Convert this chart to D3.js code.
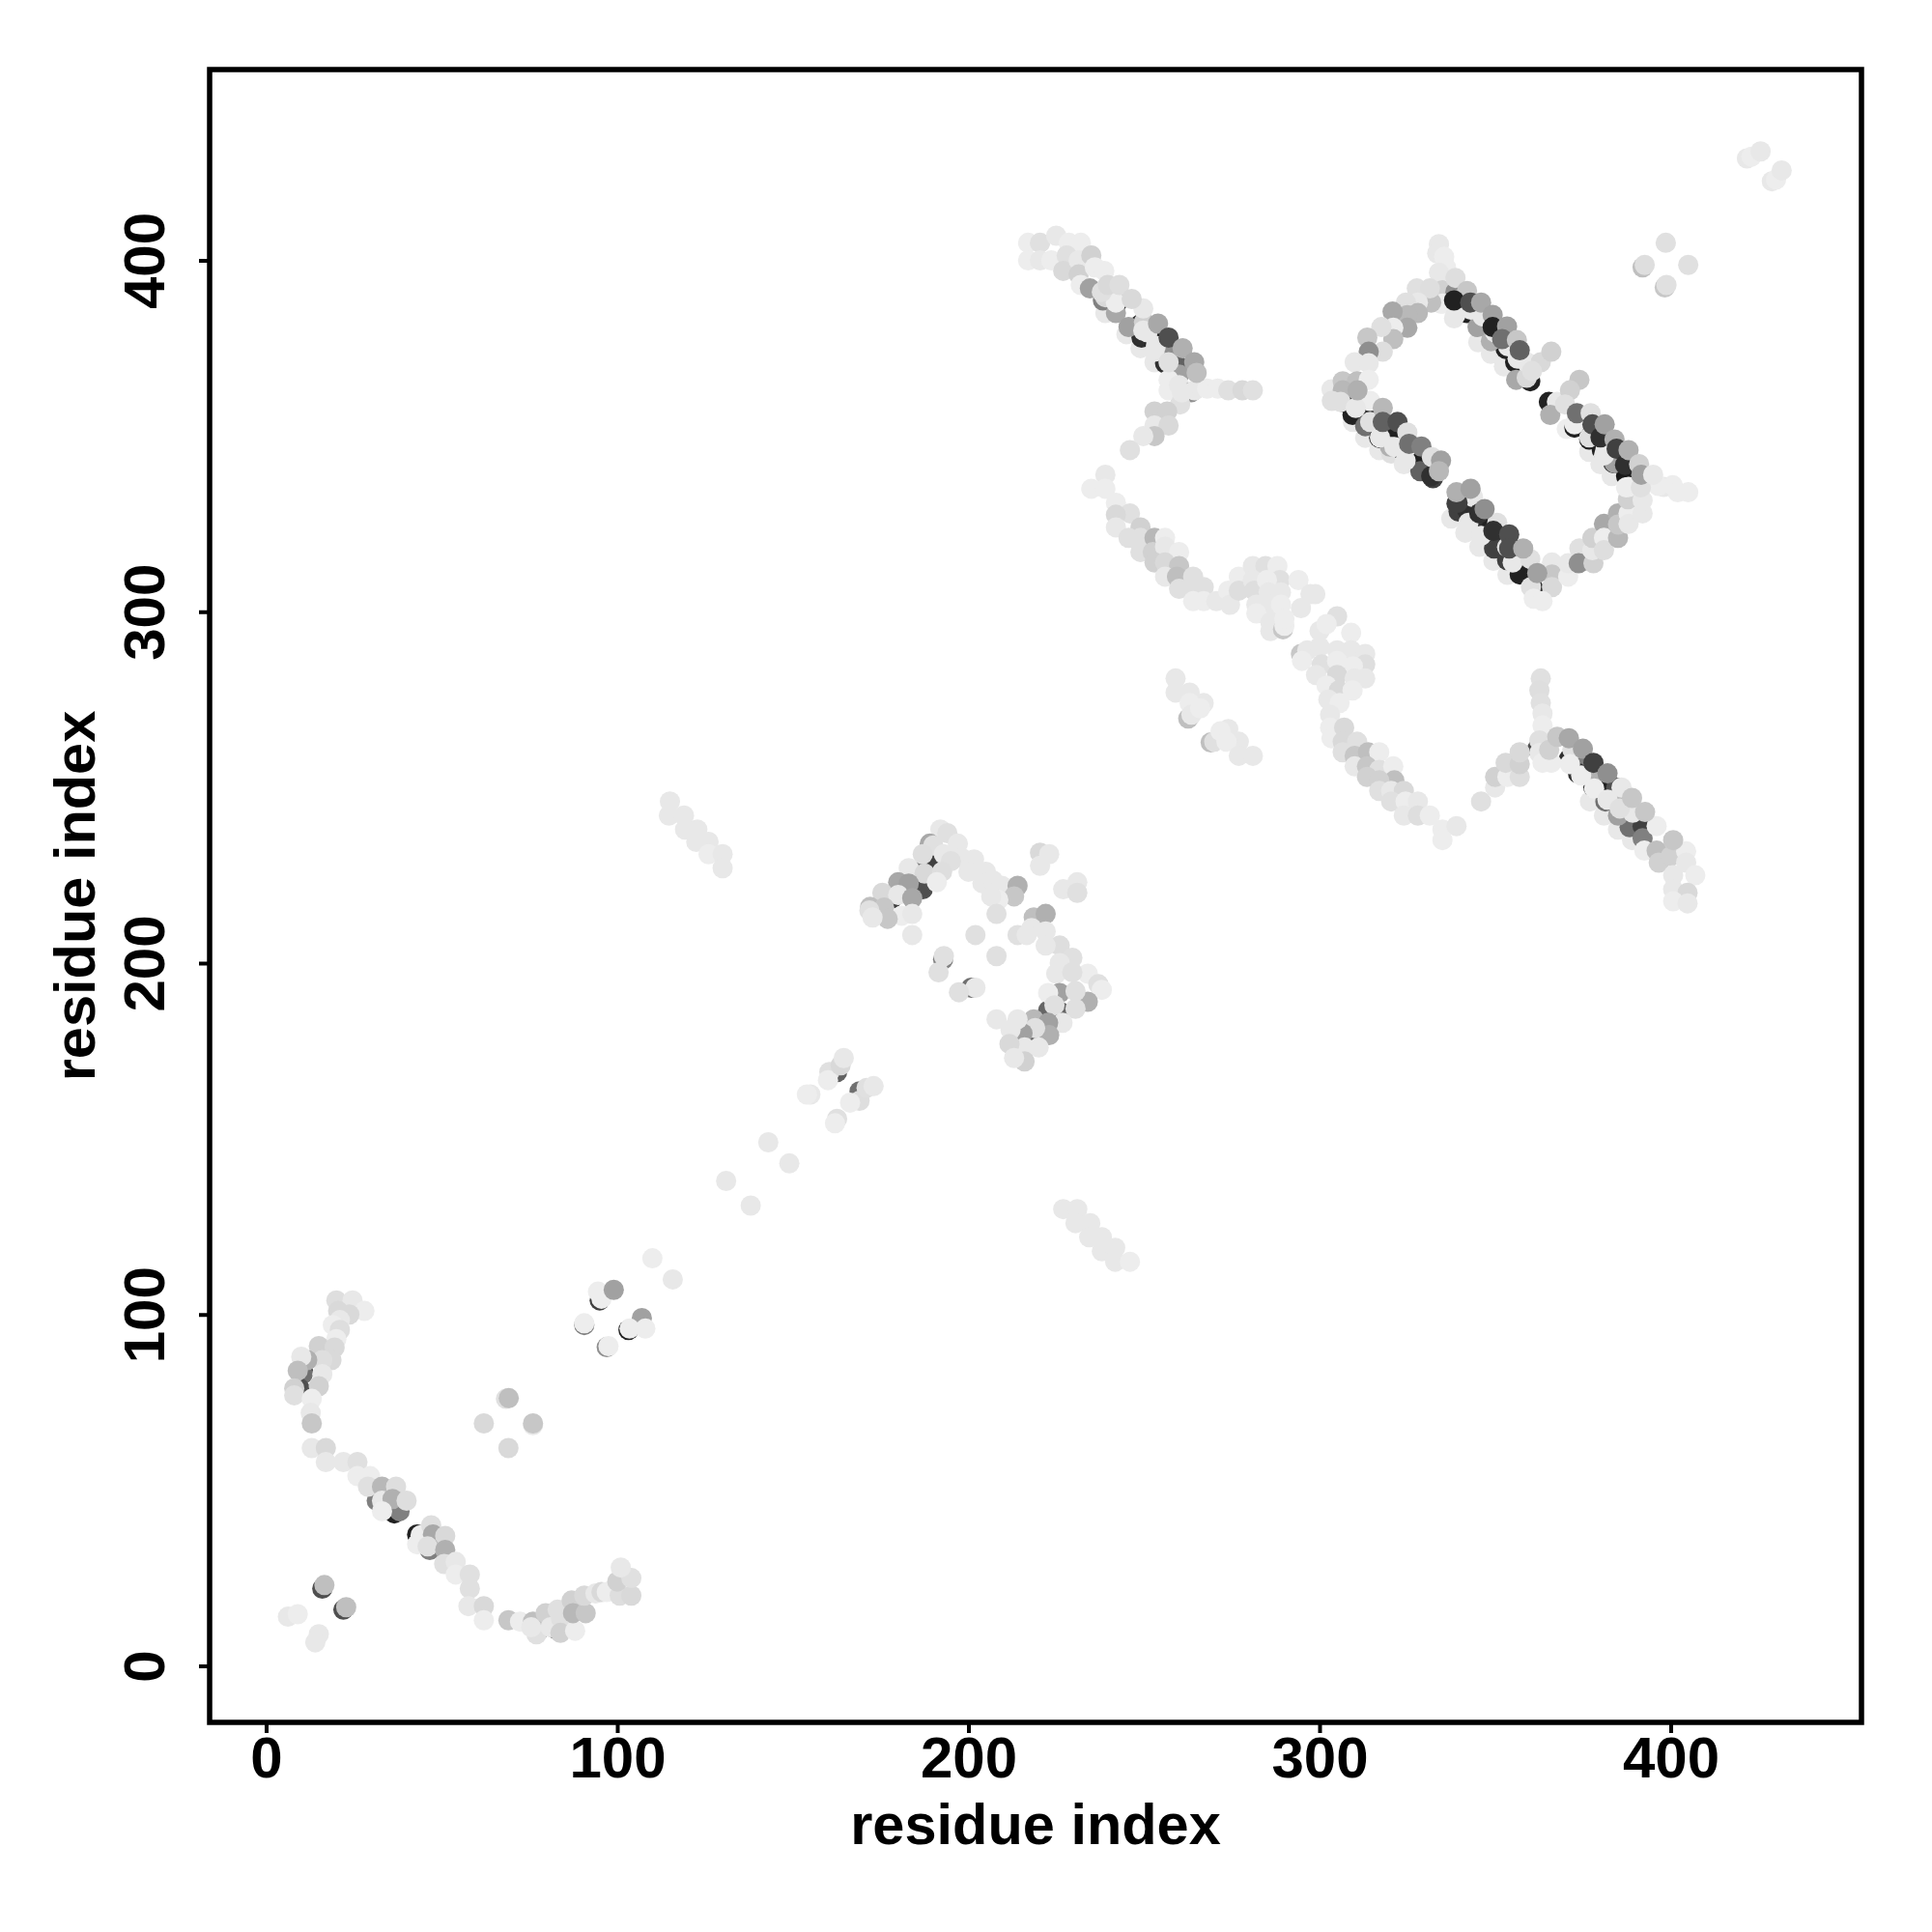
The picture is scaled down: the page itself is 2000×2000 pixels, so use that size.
<!DOCTYPE html>
<html><head><meta charset="utf-8">
<script src="https://cdn.jsdelivr.net/npm/d3@7/dist/d3.min.js"></script>
<style>html,body{margin:0;background:#fff}svg{display:block}text{font-family:"Liberation Sans",Arial,sans-serif;font-weight:700;fill:#000}</style>
</head><body><div id="c"></div>
<script>
// each entry: residue i, residue j, darkness score (0 white .. 100 black)
const nTermArc=[[20,104,13],[24.6,104,9],[28,101,7],[23.7,100,15],[20.5,101,15],[21,98.4,9],[19,97,7],[21,95.6,13],[20,93,7],[15,91,18],[19.5,90.6,15],[18.6,87,15],[16,87,13],[11.7,87,31],[10,88,9],[10.5,83.5,87],[10.4,83,56],[16,83,9],[9,84,25],[15,79.6,18],[9.5,79,69],[8,79,18],[8,77,12],[13,76,7],[12.7,72,9],[13,69,22],[13,62,9],[17,62,15],[17,58,9],[22,58,9],[26,58,12],[26,54,7],[29.6,54,7],[29,51,12],[33,51,28],[37,51,13],[31.5,47,50],[33,47,9],[36,47.5,31],[40,47,13],[33,44,7],[36.5,43.4,87],[38,44,50],[43,37.4,87],[44,37.2,7],[47,40,13],[46,36.5,69],[47.5,37.4,34],[51,37,15],[43,34.6,7],[46.6,33,50],[46,34,12],[51,33,31],[50.7,29,12],[54,29.6,9],[54,26,7],[58,26,12],[58,22,12],[57.6,17,9],[62,17,15],[62,13,7],[69,13,22],[72.3,12.6,7]];
const nTermTail=[[76,12.6,25],[77,9,12],[75.5,11,9],[78,10.5,69],[79.6,15,18],[81,11,9],[82.5,10.5,75],[83,16,12],[83,11,62],[84,13.5,12],[83.8,9.4,18],[88,10,7],[87,18.6,18],[87.4,15,28],[91,15,22],[90.6,20,15],[93.8,20.6,9],[95.5,21,15],[97,21,7],[100.7,20,13],[104,20,15],[100,24,18],[104,25,12],[101,28,9]];
const cornerSpots=[[16,22,69],[16.6,23,25],[22,16,69],[22.8,16.7,25],[6.2,14,9],[9,14.7,7],[15,9,9],[14,6.7,9],[68.3,76,12],[69.1,76.2,25],[62,69,15],[76,68.5,9],[76,69,22],[69,62,15],[95,104,75],[95.5,104.5,7],[94.5,106.5,7],[99,107,37],[90.6,97,50],[90.6,97.5,7],[97,90.7,44],[97.5,91,7],[107,99,37],[103.2,95.6,87],[103.5,96,7],[108,96,7]];
const sparseLinks=[[110,116,7],[115.8,110,9],[131,138,9],[138,131,9],[143,149,9],[149,143,9],[155,162.6,9],[154,162.6,7],[162.6,169,62],[160.4,169,12],[160,166.7,7],[163.6,170.9,15],[164.5,173,9],[169,163.5,56],[169,160.8,13],[166.3,160.3,7],[171,164.5,12],[173,165,9],[162.6,155.7,12],[162,154.4,7]];
const offDiagA=[[227,130,9],[231,130,9],[230.5,126,9],[234.7,126,9],[234.4,122,9],[238,122,9],[238,118,9],[241.8,119,9],[241.8,115,9],[246,115,7]];
const offDiagB=[[115,246,9],[114.7,242,9],[119,242,9],[119.3,238,9],[122.8,238,9],[122.5,234.5,9],[126,234.5,9],[126,231,7],[130,231,9],[130,227,9]];
const midArmLeft=[[192,238,9],[194,237,12],[197,234,9],[189,234,34],[190,233.5,12],[187,231,13],[193,231,9],[189.7,229,75],[198,230,9],[201.6,229.5,9],[195,229,12],[186,226,56],[183,227,9],[187.5,225.5,15],[192.5,226,13],[200,226,9],[205,226,9],[180,223,34],[183,222.6,37],[187,221,69],[191,223,7],[175.5,220,15],[178.3,218.5,75],[180,219.4,9],[184,218.5,34],[204,222.7,9],[207,223.5,9],[209.5,222,9],[214,222,31],[213,219,22],[208.5,218,7],[206.5,219,9],[172,216,25],[176,215.8,22],[174.1,215,62],[171.8,215,12],[181,213.5,7],[184,214,9],[177,212.6,22],[172.7,213,9],[208,214,12],[184,208,9],[202,208,12],[214,208,12],[208,202,12],[192.8,201,50],[193,202,12],[191.5,197.4,12],[200.8,193,56],[202,193,9],[197.3,191.7,12]];
const midArmRight=[[220.4,231.4,15],[223,231,9],[220.4,227.7,9],[227,221,9],[231,223,9],[231,220,12],[218.6,213,25],[222,214,31],[218,210,9],[222,209,9],[216.6,208,9],[226,205,13],[222,205,9],[229.6,201.5,12],[226,200,9],[225,197,9],[234,197,7],[229.6,197.4,12],[237,194,12],[238,192.4,7],[234,189,31],[226,191.5,37],[222.7,191.5,7],[230.5,192,12],[222.7,186.5,60],[226.4,186,60],[224.5,188,12],[230.5,187,12],[226.8,183,9],[218.6,184,28],[222.7,183,37],[223,179.5,31],[219,181.5,12],[217,179,60],[215.4,180,37],[214,184,9],[208,184,9],[212,181,9],[220,176,9],[215.5,175,60],[216,176,9],[211.7,177,15],[216,172,18],[213,173,9]];
const topBend=[[217,405,7],[220.4,405,12],[225,407,9],[217,400,7],[220.4,400,9],[223.6,400,7],[228.6,405,7],[232,405,7],[228,401.4,12],[227,397,15],[231.4,400,9],[235,401.4,18],[231.4,396,18],[232,393,7],[236,398,7],[238.7,397,7],[234.6,392,37],[238.3,388.6,50],[239,389.5,15],[242.4,388,81],[242,385,34],[245.6,381,37],[248.8,381.7,87],[250,382.5,18],[249.3,378,81],[253,377,87],[251,379.5,9],[257.6,375,44],[253,374,9],[256,370.7,81],[260,369.8,62],[260,367.5,37],[257,366,7],[257,363,7],[260,364.5,9],[260,362,69],[263.5,362.5,44],[264.4,363,9],[268,363.5,7],[271,363.5,7],[274,363,12],[278,363,15],[281,363,12],[260.3,359,12],[253,357,18],[256.6,357,18],[253,353,9],[257,353,15],[253,350,22],[249.8,350,9],[246,346,12]];
const upperBand=[[239,339,9],[235,335,7],[239,335,7],[242,331,7],[246,328,12],[242,327.6,15],[242,324,9],[249,324,18],[245.6,321,12],[249,321,12],[253,321,28],[256,321,7],[249,317,12],[252.5,317,18],[256,318.5,9],[260,317,7],[253,314,18],[256,314,15],[260,313,22],[256,310,9],[259.4,310,25],[264,310,12],[260,306.5,12],[263,306.5,12],[267,307,12],[264,303,7],[267,303,7],[270.6,303,9],[274,306,7],[274.5,302,9],[277,310,7],[277,306,13],[281,313,9],[284.6,313,12],[288,313,7],[281,309,9],[281.4,306,13],[288.7,309,12],[285,309,7],[294,309,7],[285.5,305.5,9],[289,305.5,9],[297.4,305,9],[298.8,305,9],[282,302,9],[286,301,9],[289,302,7],[294.7,301,9],[282,299.5,7],[286,297,9],[286,294.5,9],[289.6,295,22],[290,296,7],[290,298,7]];
const lowerBand=[[305,298.7,12],[300,294.5,9],[309,294,7],[302,296.5,7],[294.7,288,22],[296.5,289,9],[300,290,9],[305,289,9],[309,289,9],[313,288,9],[295,286,7],[300.6,285,12],[305,286,7],[313,285,13],[309.5,284.5,7],[299,282,9],[305,282,15],[313,281,9],[310,281,9],[302,279,7],[305.5,277.6,15],[309.4,277.6,7],[302.5,275,9],[305.7,274,7],[303,270.7,9],[303,267,7],[303.4,264,7],[307,267,15],[306.6,263,15],[306.6,260,12],[310.7,263,12],[310,259,22],[313.8,260,25],[317,260,7],[310,256,9],[313.5,256,22],[317,255,12],[321,256,7],[321.3,252,25],[313.5,253,18],[317,252,18],[317,249,12],[320.4,249,9],[324,249,15],[320.4,246,12],[324.5,246,7],[328,246,9],[324,242,9],[328,242,13],[331.4,242,7],[335,238,7],[339,239,9],[335,235,7]];
const sidePatch=[[259,281,9],[259,277,9],[263,277,9],[267,274,9],[263,274,7],[262.6,269.6,25],[263.5,270.7,9],[266,272.5,7],[269,262.8,25],[270,263,12],[274,266.6,9],[271.8,266,7],[277,263,9],[273.5,263,7],[277,259,9],[281,259,9]];
const rightArm=[[346,246,12],[350,250,9],[350,253,18],[353.5,253,7],[353,257,15],[357,253,13],[357,256.6,18],[357,260,15],[363,281,12],[362.6,277.6,13],[363,274,12],[363.5,271,9],[363.5,267.6,7],[362.6,263.4,12],[362,261,69],[362.6,259.8,9],[363.5,257,7],[366,257,7],[365.4,260.7,18],[367.7,264.4,22],[371,258,81],[374,258,50],[373.6,254,81],[378.7,254,31],[377,253,87],[378,250,87],[381.4,249,87],[381.4,246,56],[384.5,250,69],[385,246.5,28],[385,242,37],[388.8,243,75],[388.3,238.7,56],[392,239,75],[392,235.5,50],[396,239,7],[392.5,232,7],[396,232,25],[396.6,228.6,18],[400,230.4,18],[404.4,231.8,7],[404.4,228.6,9],[407,225,7],[400.7,225,9],[400.7,221,9],[404.8,220,15],[400.7,217.6,7],[404.8,217,9]];
const ladderTopLeft=[[334,404.6,9],[333.5,402,9],[335.5,401,7],[336,398,7],[334,396.5,9],[335,391.5,18],[338.7,387.7,87],[338.7,391,44],[335,387.7,7],[338.7,384.4,9],[342,385,87],[345,381,37],[346,382,87],[349.3,378.5,87],[348.8,377,31],[353,374.8,87],[355.7,371,87],[356,366,34],[359.8,368,87],[360,365.6,87],[359,366.6,15],[359,371,9],[363,371,15],[366,374,18]];
const loopLeft=[[331.8,388,25],[327.7,392,12],[331.4,392,13],[328,388,9],[324.6,388,12],[328,385,28],[325,384.4,28],[320.8,385.4,34],[325,380.8,34],[321,380.8,7],[321,377.6,25],[317.6,381,12],[313.6,378,22],[318,374,13],[314,374,44],[310,371,9],[314,370.7,9]];
const ladderTopRight=[[303.4,363.3,9],[306.6,365.6,22],[310.7,365.6,25],[314,366,7],[306.6,363,28],[303.5,360,12],[306.6,359.7,75],[309.4,356,87],[313,357.4,81],[313,352.8,56],[317,349.5,90],[321,350.5,87],[323.6,346,90],[320,347,31],[328.2,342.3,87],[328.7,340,62],[332.3,338,75],[331.8,338.6,81]];
const ladderLow=[[339,330.8,75],[339.6,328.5,75],[342,329,81],[345,325,81],[349.2,324.8,87],[349.7,321.6,81],[349.7,318,75],[355,318,81],[353.4,314.7,75],[356,314.7,81],[357,310.6,87],[366.2,314,9],[366.2,310.6,22],[366.2,307,15],[361,306.5,81],[360.2,307,12],[361,303.7,7],[363.5,303,7],[370.8,310,7],[370.8,313.8,9]];
const loopRight=[[374,318,12],[373.8,313.8,44],[378,313.8,18],[377.7,317.5,9],[377.7,321,18],[381,325,34],[381,321,7],[381,317.5,13],[385,321,28],[385,328,31],[385,324.8,22],[388,328,7],[388,325,9],[392,328,9],[387.8,332,18],[392,331.7,9]];
const ladderRight=[[365.3,359.7,87],[367.6,359.7,9],[365.7,356,31],[374,366,22],[371.3,363,18],[369.9,359,12],[372.6,352.4,87],[376.8,349,87],[380.4,346,87],[383.7,342.3,87],[387.3,338.6,90],[388,335.5,7],[398,335.5,9],[396.5,335.8,7],[400.6,336,7],[402,334,7],[405,334,7]];
const topCorner=[[392,398,25],[392.6,398.7,13],[398.6,405,12],[405,398.7,12],[398.3,392.3,22],[398.8,393,12],[421.7,429,9],[423,429.5,7],[425.6,431,9],[428.8,422.5,9],[430,423,7],[431.6,425.6,9]];
// pale discs lying under the dark strands, on their lower-left side
const paleFringe=[[334.6,387.7,9],[338.3,383.5,9],[345.2,376.7,9],[348.8,373.4,9],[352.5,369.8,9],[309.5,354,9],[313,349.5,9],[317,346,9],[320.4,345,12],[324,342,9],[337.5,326.5,9],[341.5,322.5,9],[345.5,318.5,9],[349.5,314.5,9],[353.5,310.5,9],[370.4,352,7],[376.8,345.5,9],[380,342,9],[383.2,338.6,9],[377,246,9],[381,242,9],[385,238,9],[389,235,9],[245,379,9],[249,375,9],[253,371,9],[239,385,9]];
// pale discs that leave only a crescent of the dark disc under them
const paleCaps=[[343,386,9],[346.5,384,9],[350,379.5,9],[353.7,375.5,9],[356.4,372,9],[360.5,368.5,12],[306,359.7,12],[314.4,360,7],[310.3,358,9],[314.4,354,12],[317.2,349.6,9],[321.3,346.9,9],[324.5,343,9],[343.7,332.6,9],[342.4,325.3,9],[346,321.6,9],[350.6,325.3,12],[353.4,318.4,12],[355,314,9],[360,315,12],[372.6,353.3,7],[376.8,349.6,12],[381.4,346,7],[384,342.3,37],[387.3,335.4,7],[391.5,335.4,12],[381,344.5,9],[242,388,7],[238,391,12],[249.8,386.3,9],[249.8,380,9],[253.4,375.7,9],[257,371,12],[260.8,362.4,9],[372,260.7,12],[371.3,256.6,7],[374.5,253.4,7],[378.2,249.7,7],[382,246.5,9],[386,250,9],[389.2,242.8,9],[385.5,244,12]];
// discs fully visible on the upper-right edge of the strands
const outerRow=[[338.7,395,13],[342,391.3,22],[338.3,388.6,87],[342.9,388,69],[346,388,34],[349.3,384.5,37],[349.3,381,87],[353.4,381.2,37],[352,377.6,56],[356.2,377.3,22],[357,374.4,62],[310.8,363,31],[318,358,28],[318,354,62],[322.2,354,69],[325,351,12],[325.5,347.8,56],[329,347,50],[332,344,12],[334.6,343,37],[334,340,28],[339.3,331,75],[339,334,31],[343,335,37],[345.5,328,81],[347,329.2,44],[349.5,323,81],[354,322,69],[354,318,69],[358,318,31],[362,311,37],[373.3,356.5,56],[377.2,356.5,12],[377.7,353.3,69],[380,349.6,81],[381.2,353.3,37],[384,349,31],[384.6,346.4,75],[387,341.8,81],[388,346,31],[391,342,18],[391.6,339,37],[395,339,9],[239.7,393,15],[243,393,13],[246.5,389,15],[254,382,34],[257,378,69],[261,375,31],[264.3,371,34],[265,368,25],[371,264,34],[375,261,37],[378,257,75],[382,254,44],[389,247,22],[392.7,243,22],[400.7,235,22]];
const xTicks=[0,100,200,300,400], yTicks=[0,100,200,300,400];
const axisLabel="residue index";

const mainPoints=[nTermArc,nTermTail,cornerSpots,sparseLinks,offDiagA,offDiagB,midArmLeft,midArmRight,topBend,upperBand,lowerBand,sidePatch,rightArm,ladderTopLeft,loopLeft,ladderTopRight,ladderLow,loopRight,ladderRight,topCorner].flat();
const ordered=[...paleFringe,...mainPoints.filter(d=>d[2]>=50),...mainPoints.filter(d=>d[2]<50),...paleCaps,...outerRow];

const W=2000,H=2000,L=217,R=1927,T=72,B=1783;
const x=d3.scaleLinear().domain([0,400]).range([275.5,1729.5]);
const y=d3.scaleLinear().domain([0,400]).range([1724.5,269.5]);
const shade=d3.scaleLinear().domain([0,100]).range(["#fff","#000"]);
const svg=d3.select("#c").append("svg").attr("width",W).attr("height",H);

svg.append("g").selectAll("circle").data(ordered).join("circle")
  .attr("cx",d=>x(d[0])).attr("cy",d=>y(d[1])).attr("r",10.5).attr("fill",d=>shade(d[2]));

const gx=svg.append("g").attr("transform",`translate(0,${B})`).call(d3.axisBottom(x).tickValues(xTicks).tickSize(11));
const gy=svg.append("g").attr("transform",`translate(${L},0)`).call(d3.axisLeft(y).tickValues(yTicks).tickSize(11));
[gx,gy].forEach(g=>{g.select(".domain").remove();g.selectAll("line").attr("stroke","#000").attr("stroke-width",4);});
gx.selectAll("text").attr("font-size",60).attr("dy",null).attr("y",57);
gy.selectAll("text").attr("font-size",60).attr("x",null).attr("dy",null).attr("text-anchor","middle")
  .attr("transform","translate(-47,0) rotate(-90)");
svg.append("rect").attr("x",L).attr("y",T).attr("width",R-L).attr("height",B-T).attr("fill","none").attr("stroke","#000").attr("stroke-width",5.5);
svg.append("text").attr("x",(L+R)/2).attr("y",1909).attr("text-anchor","middle").attr("font-size",59.5).text(axisLabel);
svg.append("text").attr("transform",`translate(98,${(T+B)/2}) rotate(-90)`).attr("text-anchor","middle").attr("font-size",59.5).text(axisLabel);
</script></body></html>
